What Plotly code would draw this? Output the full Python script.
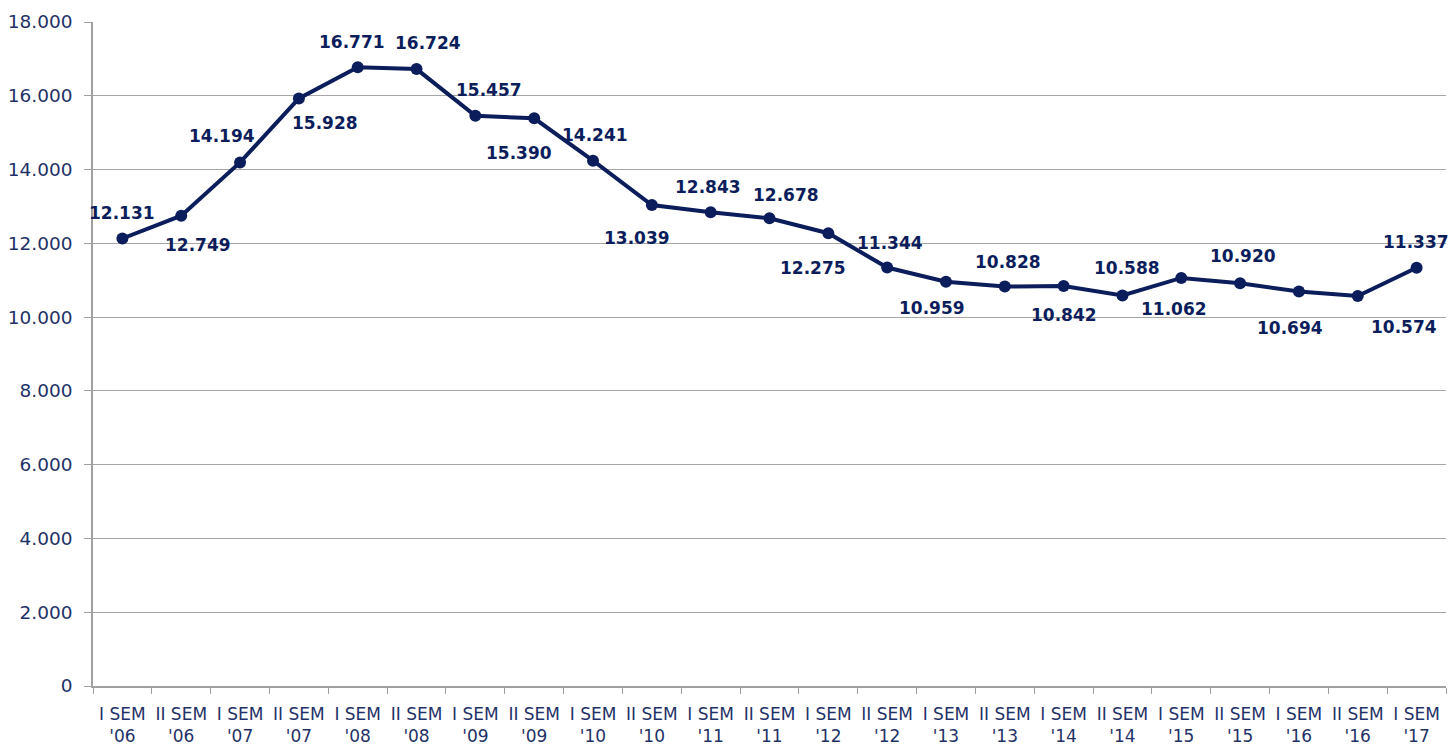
import plotly.graph_objects as go

categories = ["I SEM<br>'06", "II SEM<br>'06", "I SEM<br>'07", "II SEM<br>'07", "I SEM<br>'08", "II SEM<br>'08",
              "I SEM<br>'09", "II SEM<br>'09", "I SEM<br>'10", "II SEM<br>'10", "I SEM<br>'11", "II SEM<br>'11",
              "I SEM<br>'12", "II SEM<br>'12", "I SEM<br>'13", "II SEM<br>'13", "I SEM<br>'14", "II SEM<br>'14",
              "I SEM<br>'15", "II SEM<br>'15", "I SEM<br>'16", "II SEM<br>'16", "I SEM<br>'17"]
values = [12131, 12749, 14194, 15928, 16771, 16724, 15457, 15390, 14241, 13039, 12843, 12678,
          12275, 11344, 10959, 10828, 10842, 10588, 11062, 10920, 10694, 10574, 11337]

# label offsets in pixels (dx, dy with positive dy = up)
label_dx = [0, 17, -18, 26, -6, 11, 14, -15, 2, -15, -3, 16, -15, 3, -14, 3, 0, 5, -7, 3, -9, 46, -1]
label_dy = [26, -29, 26, -25, 25, 26, 26, -35, 26, -33, 25, 23, -35, 25, -26, 25, -29, 27, -31, 27, -36, -31, 26]

NAVY = "#0B1D5B"
TEXT = "#1F3267"
FONT = "DejaVu Sans"

fig = go.Figure()
fig.add_trace(go.Scatter(
    x=categories, y=values, mode="lines+markers",
    line=dict(color=NAVY, width=4),
    marker=dict(color=NAVY, size=12),
    hoverinfo="skip",
))

def fmt(v):
    return f"{v:,}".replace(",", ".")

for c, v, dx, dy in zip(categories, values, label_dx, label_dy):
    fig.add_annotation(x=c, y=v, xref="x", yref="y", text=f"<b>{fmt(v)}</b>",
                       showarrow=False, xshift=dx, yshift=dy,
                       font=dict(family=FONT, size=17, color=NAVY))

fig.update_layout(
    width=1453, height=749,
    margin=dict(l=93, r=7, t=22, b=63, autoexpand=False),
    paper_bgcolor="white", plot_bgcolor="white",
    separators=",.",
    showlegend=False,
    font=dict(family=FONT, color=TEXT, size=16),
)
fig.update_xaxes(
    type="category", tickson="boundaries", ticks="outside", ticklen=6, tickcolor="#A0A0A0",
    showline=True, linecolor="#A0A0A0", linewidth=1.5, showgrid=False, tickangle=0,
    tickfont=dict(family=FONT, size=17, color=TEXT), range=[-0.5, len(categories) - 0.5],
    ticklabelstandoff=12, automargin=False,
)
fig.update_yaxes(
    range=[0, 18000], tick0=0, dtick=2000, tickformat=",d",
    ticks="outside", ticklen=7, tickcolor="#A0A0A0",
    showline=True, linecolor="#A0A0A0", linewidth=1.5,
    showgrid=True, gridcolor="#A6A6A6", gridwidth=1.2, zeroline=False,
    tickfont=dict(family=FONT, size=18.5, color=TEXT), automargin=False,
    ticklabelstandoff=8,
)

fig.write_html("out.html", config={"displayModeBar": False},
               post_script="document.body.style.margin='0px';document.body.style.overflow='hidden';")
